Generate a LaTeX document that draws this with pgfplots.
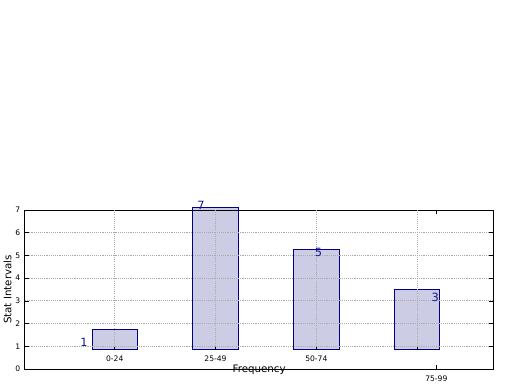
\documentclass[border=0pt]{standalone}
\usepackage{pgfplots}
\pgfplotsset{compat=1.18}
\usepackage{fontspec}
\setmainfont{DejaVu Sans}
\definecolor{barfill}{RGB}{204,204,229}
\definecolor{baredge}{RGB}{0,0,128}
\definecolor{lbl}{RGB}{20,20,150}
\definecolor{gridc}{RGB}{170,170,170}
\pgfplotsset{base/.style={at={(0,0)}, anchor=south west, scale only axis,
  width=351.2pt, height=119.25pt, xmin=-0.89, xmax=3.755, ymin=0, ymax=7, clip=false}}
\begin{document}
\begin{tikzpicture}[x=0.75pt,y=0.75pt]
\begin{axis}[
  base, axis on top,
  ytick={0,1,...,7},
  xtick={0,1,2,3}, xticklabels={0-24,25-49,50-74,{}},
  xtick style={draw=none},
  xticklabel style={yshift=13.6pt},
  extra x ticks={3.19}, extra x tick labels={75-99},
  extra x tick style={xtick style={draw=black}, xticklabel style={yshift=-15.1pt}},
  ytick style={black, line width=0.5pt},
  major tick length=3pt,
  tick label style={font=\fontsize{5.7}{6}\selectfont},
  /pgf/number format/assume math mode=true,
  ymajorgrids, grid style={densely dotted, gridc, line width=0.6pt},
  axis line style={line width=0.75pt},
  xlabel={Frequency}, ylabel={Stat Intervals},
  label style={font=\fontsize{7.7}{9}\selectfont},
  xlabel style={at={(axis description cs:0.5,0)}, anchor=center, yshift=-0.8pt},
  ylabel style={yshift=-4pt},
  ybar stacked, bar width=0.45,
]
\addplot[draw=none, fill=none] coordinates {(0,0.85) (1,0.85) (2,0.85) (3,0.85)};
\addplot[draw=baredge, fill=barfill, line width=0.75pt] coordinates {(0,0.87) (1,6.24) (2,4.42) (3,2.66)};
\end{axis}
\begin{axis}[base, hide axis]
\draw[densely dotted, gridc, line width=0.6pt] (axis cs:0,0.85) -- (axis cs:0,7);
\draw[densely dotted, gridc, line width=0.6pt] (axis cs:1,0.85) -- (axis cs:1,7);
\draw[densely dotted, gridc, line width=0.6pt] (axis cs:2,0.85) -- (axis cs:2,7);
\draw[densely dotted, gridc, line width=0.6pt] (axis cs:3,0.85) -- (axis cs:3,7);
\draw[line width=0.5pt] (axis cs:0,0.85) -- ++(0pt,2.2pt);
\draw[line width=0.5pt] (axis cs:1,0.85) -- ++(0pt,2.2pt);
\draw[line width=0.5pt] (axis cs:2,0.85) -- ++(0pt,2.2pt);
\draw[line width=0.5pt] (axis cs:3,0.85) -- ++(0pt,2.2pt);
\node[lbl, font=\fontsize{8.5}{9}\selectfont] at (axis cs:-0.305,1.19) {1};
\node[lbl, font=\fontsize{8.5}{9}\selectfont] at (axis cs:0.856,7.22) {7};
\node[lbl, font=\fontsize{8.5}{9}\selectfont] at (axis cs:2.02,5.12) {5};
\node[lbl, font=\fontsize{8.5}{9}\selectfont] at (axis cs:3.18,3.15) {3};
\end{axis}
\pgfresetboundingbox
\useasboundingbox (-25,-21) rectangle (495,369);
\end{tikzpicture}
\end{document}
